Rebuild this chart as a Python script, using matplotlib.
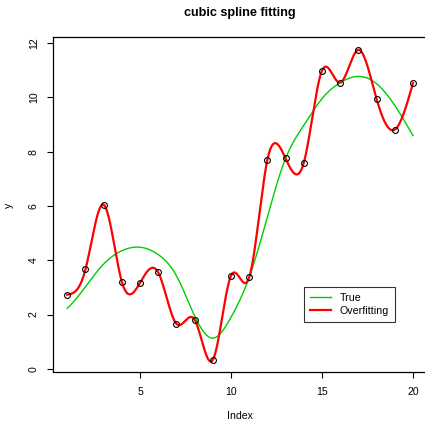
import numpy as np
import matplotlib
matplotlib.use('Agg')
import matplotlib.pyplot as plt

index = list(range(1, 21))
observed = [2.73, 3.66, 6.05, 3.21, 3.17, 3.55, 1.66, 1.81, 0.33, 3.43,
            3.37, 7.70, 7.75, 7.59, 10.98, 10.54, 11.75, 9.94, 8.81, 10.52]

# true curve sampled at the same index values
true_values = [2.23, 3.02, 3.86, 4.35, 4.48, 4.21, 3.43, 1.95, 1.13, 1.90,
               3.37, 5.60, 7.75, 8.97, 9.95, 10.54, 10.77, 10.50, 9.70, 8.59]

legend_labels = ['True', 'Overfitting']


def spline_factors(xs, ys, natural):
    # second derivatives of the interpolating cubic spline
    n = len(xs)
    h = np.diff(xs)
    b = np.diff(ys) / h
    A = np.zeros((n, n))
    rhs = np.zeros(n)
    for i in range(1, n - 1):
        A[i, i - 1] = h[i - 1]
        A[i, i] = 2 * (h[i - 1] + h[i])
        A[i, i + 1] = h[i]
        rhs[i] = 6 * (b[i] - b[i - 1])

    if natural:
        # S"(t_0) = 0, S"(t_n-1) = 0
        A[0, 0] = 1
        A[n - 1, n - 1] = 1
    else:
        # fmm: third derivative at the ends from cubic through 4 points
        d2 = [(b[i + 1] - b[i]) / (xs[i + 2] - xs[i]) for i in range(n - 2)]
        A[0, 0] = -1 / h[0]
        A[0, 1] = 1 / h[0]
        rhs[0] = 6 * (d2[1] - d2[0]) / (xs[3] - xs[0])
        A[n - 1, n - 2] = -1 / h[-1]
        A[n - 1, n - 1] = 1 / h[-1]
        rhs[n - 1] = 6 * (d2[-1] - d2[-2]) / (xs[-1] - xs[-4])
    return np.linalg.solve(A, rhs)


def spline_for_domain(domain, xs, ys, natural=True):
    xs = np.asarray(xs, dtype=float)
    ys = np.asarray(ys, dtype=float)
    z = spline_factors(xs, ys, natural)
    result = []
    for x in domain:
        i = min(max(np.searchsorted(xs, x) - 1, 0), len(xs) - 2)
        h = xs[i + 1] - xs[i]
        value = ((x - xs[i]) ** 3) * z[i + 1] / (6 * h)
        value += ((xs[i + 1] - x) ** 3) * z[i] / (6 * h)
        value += (ys[i + 1] / h - z[i + 1] * h / 6) * (x - xs[i])
        value += (ys[i] / h - z[i] * h / 6) * (xs[i + 1] - x)
        result.append(value)
    return result


def main():
    plt.rcParams['font.family'] = ['Liberation Sans', 'DejaVu Sans']

    fig = plt.figure(figsize=(4.25, 4.22), dpi=100)
    ax = fig.add_axes([53.4 / 425, (422 - 372.3) / 422, 373.4 / 425, 334.9 / 422])

    domain = np.linspace(1, 20, 800)

    ax.plot(index, observed, 'o', mfc='none', mec='black', ms=4.2, mew=0.8, zorder=3)
    ax.plot(domain, spline_for_domain(domain, index, true_values, natural=False),
            color='#00cd00', lw=1.0, label=legend_labels[0])
    ax.plot(domain, spline_for_domain(domain, index, observed, natural=True),
            color='#ff0000', lw=1.6, label=legend_labels[1])

    lo, hi = min(observed), max(observed)
    pad = 0.04 * (hi - lo)
    ax.set_ylim(lo - pad, hi + pad)
    ax.set_xlim(1 - 0.04 * 19, 20 + 0.04 * 19)

    ax.set_xticks([5, 10, 15, 20])
    ax.set_yticks([0, 2, 4, 6, 8, 10, 12])
    ax.tick_params(direction='out', length=4.5, width=0.8, labelsize=7.6, pad=6)
    for label in ax.get_yticklabels():
        label.set_rotation(90)
        label.set_va('center')
    for spine in ax.spines.values():
        spine.set_linewidth(0.9)

    fig.text(240 / 425, 1 - 416 / 422, 'Index', fontsize=7.6, ha='center', va='center')
    fig.text(9 / 425, 1 - 205 / 422, 'y', fontsize=7.6, ha='center', va='center',
             rotation=90)
    fig.text(240 / 425, 1 - 13 / 422, 'cubic spline fitting', fontsize=9.1,
             fontweight='bold', ha='center', va='center')

    leg = ax.legend(loc='upper left', bbox_to_anchor=(304 / 425, 1 - 286.7 / 422),
                    bbox_transform=fig.transFigure, fontsize=7.7, frameon=True,
                    fancybox=False, edgecolor='black', handlelength=2.0,
                    borderpad=0.55, labelspacing=0.3, handletextpad=0.8,
                    borderaxespad=0)
    leg.get_frame().set_linewidth(0.8)

    fig.savefig('out.png', dpi=100)


if __name__ == '__main__':
    main()
